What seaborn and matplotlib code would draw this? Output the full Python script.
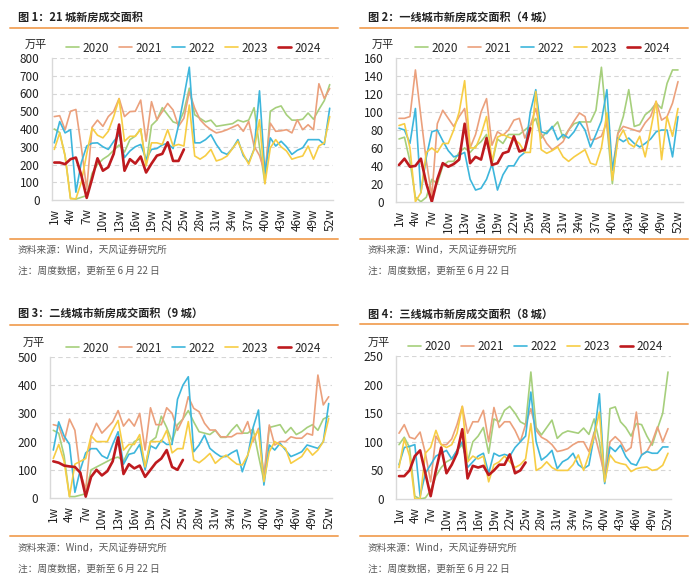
import numpy as np
import pandas as pd
import matplotlib
matplotlib.use("Agg")
import matplotlib.pyplot as plt
from matplotlib.lines import Line2D
import seaborn as sns

# ---------------- data ----------------
weeks = list(range(1, 53))
xtick_weeks = list(range(1, 53, 3))
xtick_labels = [f"{w}w" for w in xtick_weeks]
years = ["2020", "2021", "2022", "2023", "2024"]

# Panel 1: 21 cities
p1_2020 = [400, 380, 250, 10, 5, 15, 25, 150, 200, 230, 250, 280, 310, 270, 340, 360, 400, 200, 420, 450,
           520, 480, 440, 430, 500, 630, 480, 460, 440, 450, 415, 420, 425, 430, 450, 440, 450, 520, 300, 95,
           500, 520, 530, 480, 450, 450, 455, 490, 455, 510, 560, 650]
p1_2021 = [470, 475, 395, 500, 510, 300, 60, 410, 450, 415, 470, 500, 572, 470, 498, 500, 563, 331, 554, 452,
           498, 544, 507, 415, 461, 609, 517, 452, 420, 396, 378, 385, 396, 410, 424, 387, 443, 304, 250, 155,
           433, 387, 390, 396, 378, 452, 396, 424, 396, 655, 572, 628]
p1_2022 = [322, 442, 378, 396, 44, 211, 304, 320, 322, 300, 285, 330, 370, 239, 276, 300, 313, 230, 285, 290,
           310, 320, 290, 420, 580, 748, 322, 322, 340, 368, 313, 270, 257, 290, 340, 250, 211, 285, 615, 150,
           350, 304, 331, 300, 257, 280, 294, 340, 340, 340, 313, 517]
p1_2023 = [285, 378, 248, 7, 7, 100, 260, 405, 365, 350, 387, 470, 570, 331, 359, 359, 400, 192, 322, 322,
           313, 396, 304, 313, 304, 535, 248, 230, 250, 285, 220, 230, 248, 290, 331, 260, 202, 285, 452, 91,
           294, 340, 300, 276, 230, 240, 248, 304, 230, 304, 322, 470]
p1_2024 = [211, 211, 202, 230, 239, 140, 12, 120, 235, 165, 185, 260, 425, 165, 230, 205, 245, 155, 205, 250,
           260, 325, 220, 220, 285]

# Panel 2: tier-1 (4 cities)
p2_2020 = [70, 72, 45, 5, 0, 5, 25, 20, 40, 45, 45, 55, 60, 55, 62, 67, 75, 42, 70, 65,
           75, 75, 75, 80, 85, 93, 71, 78, 82, 89, 71, 80, 87, 89, 89, 89, 102, 150, 85, 20,
           76, 95, 125, 84, 86, 97, 102, 110, 104, 132, 147, 147]
p2_2021 = [93, 93, 95, 147, 95, 45, 6, 87, 102, 93, 84, 95, 104, 60, 75, 100, 115, 63, 78, 74,
           80, 91, 93, 71, 85, 104, 76, 65, 58, 62, 67, 80, 90, 99, 95, 69, 70, 73, 89, 35,
           76, 84, 82, 80, 78, 88, 95, 112, 91, 95, 110, 134]
p2_2022 = [82, 80, 65, 104, 10, 50, 78, 80, 68, 57, 50, 52, 55, 25, 13, 15, 25, 42, 13, 30,
           40, 40, 50, 55, 100, 125, 78, 76, 84, 69, 75, 71, 78, 89, 80, 61, 75, 90, 125, 35,
           71, 67, 71, 65, 61, 65, 70, 78, 80, 80, 50, 95]
p2_2023 = [85, 87, 60, 0, 10, 55, 60, 55, 65, 65, 80, 100, 135, 60, 60, 75, 95, 45, 72, 75,
           72, 70, 65, 55, 55, 123, 58, 54, 57, 61, 50, 45, 50, 54, 58, 43, 41, 60, 99, 24,
           69, 80, 65, 61, 73, 50, 80, 112, 47, 95, 73, 104]
p2_2024 = [41, 48, 39, 40, 48, 20, 0, 25, 43, 39, 42, 47, 87, 43, 50, 47, 71, 41, 43, 54,
           56, 73, 56, 58, 82]

# Panel 3: tier-2 (9 cities)
p3_2020 = [240, 230, 150, 5, 5, 10, 15, 100, 110, 120, 130, 140, 145, 130, 170, 200, 210, 110, 200, 215,
           290, 250, 200, 260, 280, 310, 270, 235, 230, 225, 240, 215, 215, 240, 260, 230, 230, 245, 150, 60,
           250, 255, 260, 230, 250, 225, 235, 250, 260, 240, 280, 290]
p3_2021 = [260, 255, 200, 280, 240, 90, 30, 220, 265, 230, 250, 270, 310, 255, 280, 255, 300, 170, 320, 260,
           260, 320, 300, 240, 280, 359, 318, 306, 265, 241, 241, 217, 217, 217, 229, 229, 271, 200, 247, 76,
           259, 188, 200, 200, 217, 212, 212, 229, 223, 436, 330, 359]
p3_2022 = [170, 270, 220, 190, 20, 100, 160, 175, 175, 150, 140, 190, 235, 120, 155, 160, 190, 100, 185, 175,
           205, 190, 190, 350, 400, 430, 164, 188, 223, 176, 160, 147, 147, 160, 170, 93, 150, 250, 312, 46,
           188, 170, 194, 170, 147, 155, 164, 188, 182, 176, 200, 335]
p3_2023 = [140, 190, 130, 5, 120, 130, 140, 220, 200, 200, 200, 240, 275, 170, 190, 190, 225, 110, 200, 200,
           200, 240, 160, 175, 175, 271, 135, 125, 140, 158, 123, 140, 152, 135, 120, 117, 152, 212, 240, 58,
           164, 200, 188, 176, 123, 135, 147, 176, 152, 170, 200, 282]
p3_2024 = [130, 125, 115, 112, 110, 90, 5, 75, 100, 80, 95, 130, 215, 85, 120, 105, 115, 75, 100, 125,
           140, 170, 110, 100, 135]

# Panel 4: tier-3 (8 cities)
p4_2020 = [95, 108, 90, 5, 0, 2, 15, 40, 55, 65, 70, 85, 95, 65, 100, 110, 125, 80, 140, 135,
           155, 162, 150, 135, 130, 222, 125, 112, 125, 138, 106, 115, 119, 117, 115, 124, 113, 140, 100, 30,
           158, 161, 135, 125, 110, 132, 130, 110, 94, 123, 150, 222]
p4_2021 = [115, 130, 108, 105, 117, 80, 30, 110, 95, 95, 105, 130, 162, 115, 135, 135, 155, 100, 160, 125,
           135, 135, 120, 100, 130, 158, 120, 108, 103, 95, 83, 85, 88, 95, 100, 100, 83, 117, 80, 42,
           100, 109, 100, 83, 90, 152, 77, 83, 100, 126, 100, 123]
p4_2022 = [60, 90, 92, 95, 5, 45, 60, 75, 80, 85, 70, 85, 100, 55, 65, 75, 80, 45, 80, 75,
           78, 75, 90, 100, 110, 187, 100, 68, 75, 85, 53, 65, 70, 80, 60, 53, 59, 110, 184, 27,
           91, 83, 94, 74, 62, 59, 77, 83, 80, 80, 91, 91]
p4_2023 = [55, 105, 75, 0, 0, 80, 90, 120, 95, 90, 95, 115, 162, 65, 75, 70, 75, 30, 60, 65,
           75, 65, 55, 60, 70, 132, 50, 55, 65, 55, 50, 50, 50, 60, 77, 50, 77, 110, 152, 30,
           77, 65, 62, 60, 48, 53, 55, 56, 50, 52, 59, 80]
p4_2024 = [40, 40, 50, 75, 85, 45, 5, 50, 90, 45, 60, 80, 122, 36, 58, 55, 58, 42, 50, 60,
           60, 78, 45, 50, 64]

titles = ["图 1：21 城新房成交面积",
          "图 2：一线城市新房成交面积（4 城）",
          "图 3：二线城市新房成交面积（9 城）",
          "图 4：三线城市新房成交面积（8 城）"]
yticks_list = [list(range(0, 801, 100)), list(range(0, 161, 20)),
               list(range(0, 501, 100)), list(range(0, 251, 50))]
unit_label = "万平"
source_text = "资料来源：Wind，天风证券研究所"
note_text = "注：周度数据，更新至 6 月 22 日"

panels_data = [
    [p1_2020, p1_2021, p1_2022, p1_2023, p1_2024],
    [p2_2020, p2_2021, p2_2022, p2_2023, p2_2024],
    [p3_2020, p3_2021, p3_2022, p3_2023, p3_2024],
    [p4_2020, p4_2021, p4_2022, p4_2023, p4_2024],
]

# ---------------- style ----------------
colors = ["#a6cf7c", "#eba07c", "#3db6dc", "#f7cd44", "#be1a1e"]
widths = [1.2, 1.2, 1.2, 1.2, 1.9]
orange = "#f2a864"
grid_c = "#d6d6d6"

sns.set_theme(style="white")
plt.rcParams["font.family"] = ["Noto Sans CJK SC", "DejaVu Sans"]

W, H = 700, 587
fig = plt.figure(figsize=(7.0, 5.87), dpi=100)


def fx(px):
    return px / W


def fy(py):
    return 1 - py / H


# per-panel layout (pixels): axes left, right, top, bottom, x of week1, x of week52,
# panel origin x, title y, top rule y, unit label x/y, legend x/y, bottom rule y, source y, note y
layouts = [
    dict(L=52, R=333, T=58, B=200, x1=54.3, x52=329.7, ox=0, ty=17, ry=28, ux=25, uy=45,
         lx=66, ly=48, by=239, sy=250, ny=271),
    dict(L=396, R=683, T=58.3, B=201.7, x1=399, x52=678, ox=350, ty=17, ry=28, ux=372, uy=45,
         lx=415, ly=48, by=239, sy=250, ny=271),
    dict(L=50, R=332, T=357, B=498, x1=53.3, x52=328.7, ox=0, ty=313, ry=325, ux=23, uy=343,
         lx=66, ly=348, by=536, sy=548, ny=569),
    dict(L=396, R=671, T=356, B=499, x1=399, x52=668, ox=350, ty=314, ry=324, ux=368, uy=343,
         lx=408, ly=347, by=536, sy=548, ny=569),
]

for i, lay in enumerate(layouts):
    ax = fig.add_axes([fx(lay["L"]), fy(lay["B"]), fx(lay["R"] - lay["L"]),
                       (lay["B"] - lay["T"]) / H])
    s = (lay["x52"] - lay["x1"]) / 51
    xmin = 1 - (lay["x1"] - lay["L"]) / s
    xmax = 52 + (lay["R"] - lay["x52"]) / s
    yt = yticks_list[i]

    for k, (yr, vals) in enumerate(zip(years, panels_data[i])):
        df = pd.DataFrame({"week": weeks[:len(vals)], "value": vals})
        sns.lineplot(data=df, x="week", y="value", ax=ax, color=colors[k],
                     linewidth=widths[k], zorder=3 + k, legend=False)

    ax.set_xlim(xmin, xmax)
    ax.set_ylim(yt[0], yt[-1])
    ax.set_yticks(yt)
    ax.set_yticklabels([str(v) for v in yt])
    ax.set_xticks(xtick_weeks)
    ax.set_xticklabels(xtick_labels, rotation=90)
    ax.set_xlabel("")
    ax.set_ylabel("")
    ax.tick_params(axis="both", length=0, labelsize=8.5, colors="#222222")
    ax.tick_params(axis="y", pad=9)
    ax.tick_params(axis="x", pad=6)
    ax.grid(False)
    for v in yt[1:]:
        ax.axhline(v, color=grid_c, lw=0.8, ls=(0, (4, 3)), zorder=1)
    for sp in ["top", "right"]:
        ax.spines[sp].set_visible(False)
    for sp in ["left", "bottom"]:
        ax.spines[sp].set_color("#d9d9d9")
        ax.spines[sp].set_linewidth(1.0)

    # legend
    handles = [Line2D([0], [0], color=c, lw=w) for c, w in zip(colors, widths)]
    ax.legend(handles, years, loc="center left", bbox_to_anchor=(fx(lay["lx"]), fy(lay["ly"])),
              bbox_transform=fig.transFigure, ncol=5, frameon=False, fontsize=8.5,
              handlelength=1.1, handletextpad=0.3, columnspacing=0.85, borderpad=0,
              borderaxespad=0)

    ox = lay["ox"]
    fig.text(fx(lay["ux"]), fy(lay["uy"]), unit_label, fontsize=8, color="#222222",
             ha="left", va="center")
    fig.text(fx(ox + 18), fy(lay["ty"]), titles[i], fontsize=8, fontweight="bold",
             color="#222222", ha="left", va="center")
    fig.add_artist(Line2D([fx(ox + 10), fx(ox + 338)], [fy(lay["ry"]), fy(lay["ry"])],
                          color=orange, lw=1.4))
    fig.add_artist(Line2D([fx(ox + 10), fx(ox + 338)], [fy(lay["by"]), fy(lay["by"])],
                          color=orange, lw=1.4))
    fig.text(fx(ox + 18), fy(lay["sy"]), source_text, fontsize=7, color="#5a5a5a",
             ha="left", va="center")
    fig.text(fx(ox + 18), fy(lay["ny"]), note_text, fontsize=7, color="#5a5a5a",
             ha="left", va="center")

fig.savefig("out.png", dpi=100, facecolor="white")
